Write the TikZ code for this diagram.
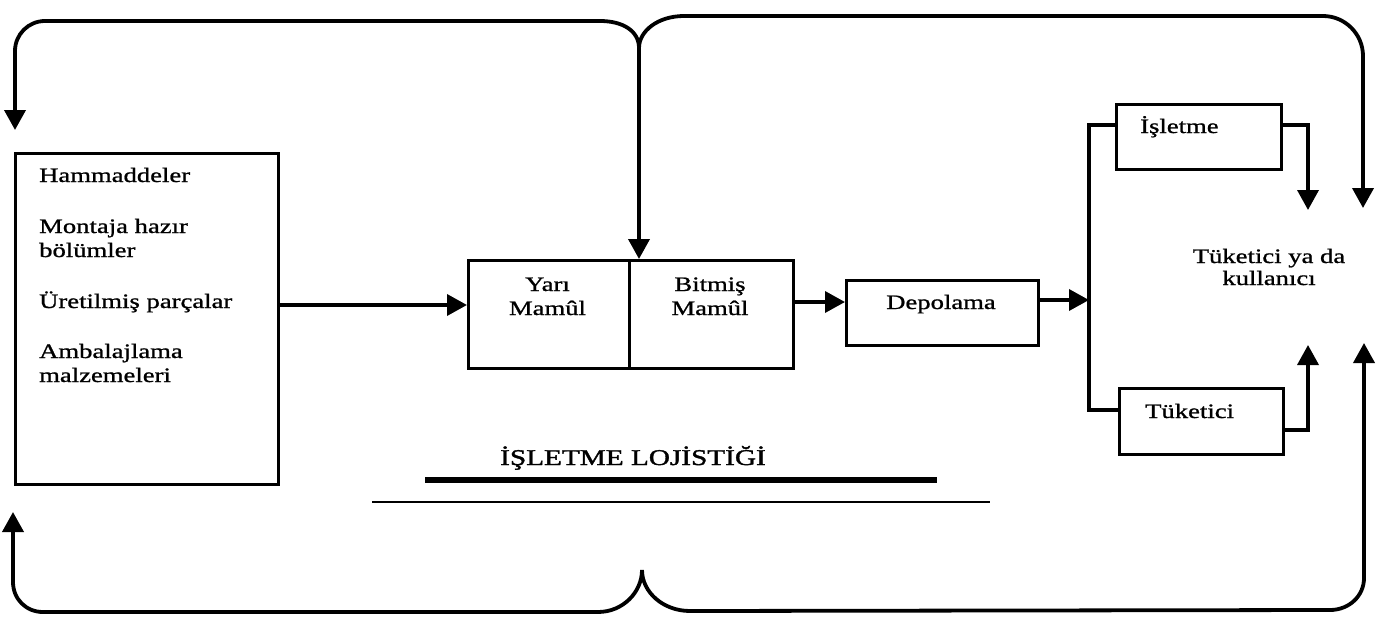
\documentclass[tikz,border=0pt]{standalone}
\usepackage{fontspec}
\setmainfont{Liberation Serif}[FakeStretch=1.3,FakeBold=1.0]
\newfontfamily\headfont{Liberation Serif}[FakeStretch=1.3,FakeBold=1.6]
\usetikzlibrary{arrows.meta}
\begin{document}
\begin{tikzpicture}[x=1pt,y=-1pt,
  box/.style={draw, line width=2.8pt, inner sep=0pt, anchor=north west},
  flow/.style={line width=3.8pt},
  link/.style={line width=3.6pt},
  branch/.style={line width=4.4pt},
  tip/.style={-{Triangle[length=20pt,width=21pt]}},
  txt/.style={inner sep=0pt, font=\fontsize{20.5}{24}\selectfont},
  ltxt/.style={txt, anchor=base west},
  ctxt/.style={txt, anchor=base},
  title/.style={inner sep=0pt, anchor=base west, font=\headfont\fontsize{22.5}{26}\selectfont}
]
\useasboundingbox (0,0) rectangle (1399,618);

% boxes
\node[box, minimum width=263pt, minimum height=331pt] (src) at (14,152) {};
\node[box, minimum width=161pt, minimum height=108pt] (yari) at (467,259) {};
\node[box, minimum width=164pt, minimum height=108pt] (bitmis) at (628,259) {};
\node[box, minimum width=192pt, minimum height=65pt] (depo) at (845,279) {};
\node[box, minimum width=165pt, minimum height=65pt] (isl) at (1115,103) {};
\node[box, minimum width=164pt, minimum height=66pt] (tuk) at (1118,387) {};

% texts of the source box
\node[ltxt] (t1) at (39,182) {Hammaddeler};
\node[ltxt] (t2) at (39,233) {Montaja hazır};
\node[ltxt] (t3) at (39,257) {bölümler};
\node[ltxt] (t4) at (39,308) {Üretilmiş parçalar};
\node[ltxt] (t5) at (39,358) {Ambalajlama};
\node[ltxt] (t6) at (39,382) {malzemeleri};

% texts of the process boxes
\node[ctxt] (ya1) at (547.5,291) {Yarı};
\node[ctxt] (ya2) at (547.5,315) {Mamûl};
\node[ctxt] (bi1) at (710,291) {Bitmiş};
\node[ctxt] (bi2) at (710,315) {Mamûl};
\node[ctxt] (dep) at (941,309) {Depolama};
\node[ltxt] (islT) at (1140,133) {İşletme};
\node[ltxt] (tukT) at (1145,418) {Tüketici};
\node[ctxt] (c1) at (1269,263) {Tüketici ya da};
\node[ctxt] (c2) at (1269,285) {kullanıcı};

% heading with its two rules
\node[title] (head) at (500,465) {İŞLETME LOJİSTİĞİ};
\coordinate (r1a) at (425,480);
\coordinate (r1b) at (937,480);
\coordinate (r2a) at (372,502);
\coordinate (r2b) at (990,502);
\draw[line width=5.5pt] (r1a) -- (r1b);
\draw[line width=2.6pt] (r2a) -- (r2b);

% main flow
\draw[link,tip] (src.east |- 0,305) -- (yari.west |- 0,305);
\draw[link,tip] (bitmis.east |- 0,302) -- (depo.west |- 0,302);
\coordinate (br) at (1089,300);
\draw[link,tip] (depo.east |- br) -- (br);
\draw[branch] (isl.west |- 0,125) -- (1089,125) -- (1089,410) -- (tuk.west |- 0,410);

% outputs towards the consumer
\coordinate (tipIs) at (1308,210);
\coordinate (tipTk) at (1308,345);
\draw[link,tip] (isl.east |- 0,125) -- (tipIs |- 0,125) -- (tipIs);
\draw[link,tip] (tuk.east |- 0,430) -- (tipTk |- 0,430) -- (tipTk);

% feedback loops
\coordinate (topJ) at (639,48);
\coordinate (botJ) at (642,570);
\coordinate (tipTL) at (15,130);
\coordinate (tipTR) at (1363,208);
\coordinate (tipBL) at (13,512);
\coordinate (tipBR) at (1364,343);

\draw[flow,tip] (topJ) .. controls (639,31) and (623,21) .. (600,21) -- (45,21)
  .. controls (28.4,21) and (15,34.4) .. (15,51) -- (tipTL);
\draw[flow,tip] (topJ) .. controls (639,31) and (658,16) .. (684,16) -- (1323,16)
  .. controls (1345,16) and (1363,34) .. (1363,56) -- (tipTR);
\draw[flow,tip] (topJ) -- (topJ |- bitmis.north);

\draw[flow,tip] (botJ) .. controls (642,592) and (623,612) .. (598,612) -- (43,612)
  .. controls (26,612) and (13,599) .. (13,582) -- (tipBL);
\draw[flow,tip] (botJ) .. controls (642,592) and (663,611) .. (690,611) -- (1330,610)
  .. controls (1349,610) and (1364,596) .. (1364,578) -- (tipBR);
\end{tikzpicture}
\end{document}
